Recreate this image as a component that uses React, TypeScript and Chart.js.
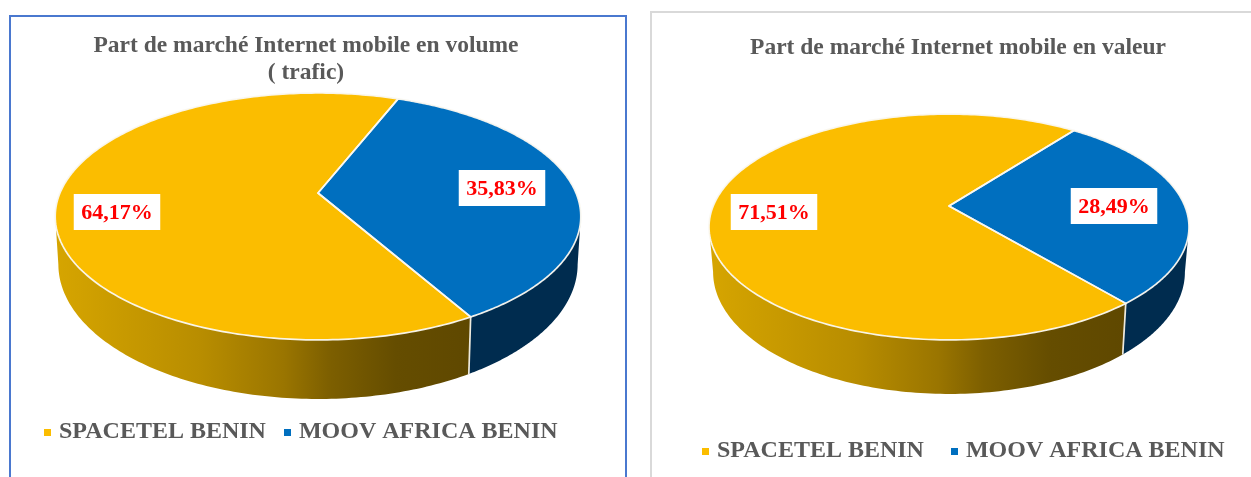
import React, { useEffect, useRef } from "react";
import { Chart, registerables } from "chart.js";

Chart.register(...registerables);

const operators = ["SPACETEL BENIN", "MOOV AFRICA BENIN"];
const volumeShares = [64.17, 35.83];
const valueShares = [71.51, 28.49];
const volumeTitle = ["Part de marché Internet mobile en volume", "( trafic)"];
const valueTitle = "Part de marché Internet mobile en valeur";
const faceColors = ["#FBBD00", "#006FBF"];

const FONT = '"Liberation Serif", serif';
const WALL_STOPS: [number, string][] = [
  [0, "#d6a500"],
  [0.35, "#b88d00"],
  [0.55, "#9a7500"],
  [0.66, "#7d5f00"],
  [0.82, "#654d00"],
  [1, "#5f4800"],
];
const MOOV_WALL = "#002c4f";

type Geo = {
  ox: number; oy: number;
  cx: number; ay: number; a: number; b: number; k: number;
  ye: number; yb: number; sx: number; sy: number;
  labels: [number, number][];
  titleCx: number; titleTop: number;
  legendStart: number; legendTop: number; legendPad: number;
};

function legendMarker(color: string) {
  const c = document.createElement("canvas");
  c.width = 9;
  c.height = 7;
  const g = c.getContext("2d") as CanvasRenderingContext2D;
  g.fillStyle = color;
  g.fillRect(2, 0, 7, 7);
  return c;
}

const pieProjection = {
  id: "pieProjection",
  afterLayout(chart: any, _args: any, opts: Geo) {
    const t = chart.titleBlock;
    if (t) {
      const w = t.right - t.left;
      t.left = opts.titleCx - opts.ox - w / 2;
      t.right = t.left + w;
      const h = t.bottom - t.top;
      t.top = opts.titleTop - opts.oy;
      t.bottom = t.top + h;
    }
    const l = chart.legend;
    if (l) {
      const h = l.bottom - l.top;
      l.left = opts.legendStart - opts.ox - opts.legendPad;
      l.right = l.right + 200;
      l.top = opts.legendTop - opts.oy;
      l.bottom = l.top + h;
    }
  },
  beforeDatasetsDraw(chart: any, _args: any, g: Geo) {
    const ctx: CanvasRenderingContext2D = chart.ctx;
    const arcs = chart.getDatasetMeta(0).data;
    const cx = g.cx - g.ox;
    const ay = g.ay - g.oy;
    const ye = g.ye - g.oy;
    const yb = g.yb - g.oy;
    const top = (phi: number): [number, number] => {
      const w = 1 - g.k * Math.sin(phi);
      return [cx + (g.a * Math.cos(phi)) / w, ay + (g.b * Math.sin(phi)) / w];
    };
    const low = (p: [number, number]): [number, number] => [
      cx + (p[0] - cx) * g.sx,
      yb + (p[1] - ye) * g.sy,
    ];
    const fs = Math.asin(g.k);
    const fe = Math.PI - fs;
    const seams: number[] = [];

    ctx.save();
    arcs.forEach((arc: any, i: number) => {
      const s = arc.startAngle;
      const e = arc.endAngle;
      for (let n = -2; n <= 2; n++) {
        const from = Math.max(s, fs + n * 2 * Math.PI);
        const to = Math.min(e, fe + n * 2 * Math.PI);
        if (to <= from) continue;
        const up: [number, number][] = [];
        const steps = 120;
        for (let j = 0; j <= steps; j++) up.push(top(from + ((to - from) * j) / steps));
        const dn = up.map(low).reverse();
        ctx.beginPath();
        up.concat(dn).forEach((p, j) => (j ? ctx.lineTo(p[0], p[1]) : ctx.moveTo(p[0], p[1])));
        ctx.closePath();
        if (i === 0) {
          const xs = up.concat(dn).map((p) => p[0]);
          const grad = ctx.createLinearGradient(Math.min(...xs), 0, Math.max(...xs), 0);
          WALL_STOPS.forEach(([o, c]) => grad.addColorStop(o, c));
          ctx.fillStyle = grad;
        } else {
          ctx.fillStyle = MOOV_WALL;
        }
        ctx.fill();
        if (s > fs + n * 2 * Math.PI && s < fe + n * 2 * Math.PI) seams.push(s);
      }
    });
    seams.forEach((phi) => {
      const p = top(phi);
      const q = low(p);
      ctx.beginPath();
      ctx.moveTo(p[0], p[1]);
      ctx.lineTo(q[0], q[1]);
      ctx.strokeStyle = "#eeeadd";
      ctx.lineWidth = 1.7;
      ctx.stroke();
    });
    arcs.forEach((arc: any, i: number) => {
      ctx.beginPath();
      ctx.moveTo(cx, ay);
      const steps = 240;
      for (let j = 0; j <= steps; j++) {
        const p = top(arc.startAngle + ((arc.endAngle - arc.startAngle) * j) / steps);
        ctx.lineTo(p[0], p[1]);
      }
      ctx.closePath();
      ctx.fillStyle = chart.data.datasets[0].backgroundColor[i];
      ctx.fill();
    });
    arcs.forEach((arc: any) => {
      ctx.beginPath();
      ctx.moveTo(cx, ay);
      const steps = 240;
      for (let j = 0; j <= steps; j++) {
        const p = top(arc.startAngle + ((arc.endAngle - arc.startAngle) * j) / steps);
        ctx.lineTo(p[0], p[1]);
      }
      ctx.closePath();
      ctx.strokeStyle = "rgba(250,248,240,0.95)";
      ctx.lineWidth = 1.7;
      ctx.lineJoin = "round";
      ctx.stroke();
    });

    ctx.font = `bold 22px ${FONT}`;
    ctx.textAlign = "center";
    ctx.textBaseline = "middle";
    chart.data.datasets[0].data.forEach((v: number, i: number) => {
      const text = v.toFixed(2).replace(".", ",") + "%";
      const [lx, ly] = g.labels[i];
      const x = lx - g.ox;
      const y = ly - g.oy;
      const w = ctx.measureText(text).width + 15;
      ctx.fillStyle = "#ffffff";
      ctx.fillRect(x - w / 2, y - 18, w, 36);
      ctx.fillStyle = "#FF0000";
      ctx.fillText(text, x, y + 1);
    });
    ctx.restore();
    return false;
  },
};

function PieCanvas(props: {
  values: number[];
  title: string | string[];
  rotation: number;
  geo: Geo;
  width: number;
  height: number;
}) {
  const ref = useRef<HTMLCanvasElement>(null);
  useEffect(() => {
    const chart = new Chart(ref.current as HTMLCanvasElement, {
      type: "pie",
      data: {
        labels: operators,
        datasets: [{ data: props.values, backgroundColor: faceColors, borderWidth: 0 }],
      },
      plugins: [pieProjection as any],
      options: {
        animation: false,
        responsive: false,
        rotation: props.rotation,
        layout: { padding: 0 },
        plugins: {
          pieProjection: props.geo,
          tooltip: { enabled: false },
          title: {
            display: true,
            text: props.title,
            color: "#595959",
            padding: 0,
            font: { family: FONT, size: 23.5, weight: "bold", lineHeight: 1.149 },
          },
          legend: {
            display: true,
            position: "bottom",
            align: "start",
            labels: {
              usePointStyle: true,
              pointStyleWidth: 1,
              boxHeight: 7,
              padding: props.geo.legendPad,
              color: "#595959",
              font: { family: FONT, size: 24, weight: "bold" },
              generateLabels: () =>
                operators.map((text, i) => ({
                  text,
                  index: i,
                  fontColor: "#595959",
                  fillStyle: faceColors[i],
                  strokeStyle: faceColors[i],
                  lineWidth: 0,
                  pointStyle: legendMarker(faceColors[i]),
                  hidden: false,
                })),
            },
          },
        },
      } as any,
    });
    return () => chart.destroy();
  }, []);
  return (
    <canvas
      ref={ref}
      width={props.width}
      height={props.height}
      style={{ position: "absolute", left: props.geo.ox, top: props.geo.oy, filter: "blur(0.35px)" }}
    />
  );
}

const leftGeo: Geo = {
  ox: 11, oy: 17,
  cx: 318, ay: 193, a: 258, b: 119, k: 0.19,
  ye: 217, yb: 265, sx: 0.988, sy: 1.09,
  labels: [[117, 212], [502, 188]],
  titleCx: 306, titleTop: 32,
  legendStart: 46, legendTop: 400, legendPad: 20,
};

const rightGeo: Geo = {
  ox: 651, oy: 13,
  cx: 949, ay: 206, a: 235.8, b: 109, k: 0.186,
  ye: 227, yb: 272, sx: 0.983, sy: 1.08,
  labels: [[774, 212], [1114, 206]],
  titleCx: 958, titleTop: 34,
  legendStart: 704, legendTop: 410, legendPad: 29,
};

export default function App() {
  return (
    <div style={{ position: "fixed", inset: 0, overflow: "hidden", background: "#fff" }}>
      <div style={{ position: "absolute", left: 9, top: 15, width: 614, height: 480, border: "2px solid #4a78cf" }} />
      <div style={{ position: "absolute", left: 650, top: 11, width: 620, height: 480, border: "2px solid #d9d9d9" }} />
      <PieCanvas values={volumeShares} title={volumeTitle} rotation={150.4} geo={leftGeo} width={615} height={460} />
      <PieCanvas values={valueShares} title={valueTitle} rotation={140} geo={rightGeo} width={600} height={464} />
    </div>
  );
}
